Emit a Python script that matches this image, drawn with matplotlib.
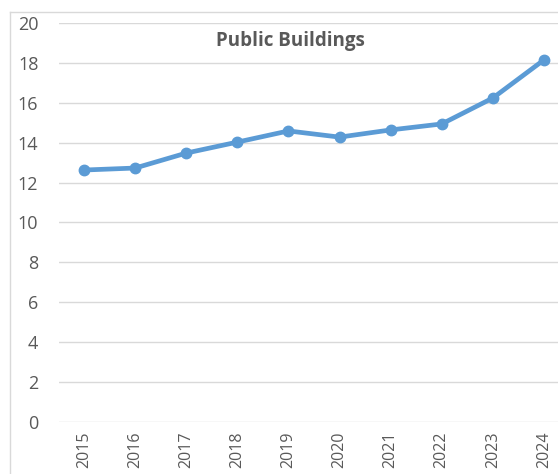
import matplotlib
matplotlib.use("Agg")
import matplotlib.pyplot as plt
from matplotlib.lines import Line2D

years = ["2015", "2016", "2017", "2018", "2019", "2020", "2021", "2022", "2023", "2024"]
values = [12.63, 12.73, 13.48, 14.03, 14.59, 14.28, 14.64, 14.94, 16.24, 18.15]
y_ticks = [0, 2, 4, 6, 8, 10, 12, 14, 16, 18, 20]
title = "Public Buildings"

W, H = 558, 474
fig = plt.figure(figsize=(W / 100, H / 100), dpi=100)
fig.patch.set_facecolor("white")

# outer chart frame (top and left edges)
frame_color = "#D9D9D9"
fig.add_artist(Line2D([10 / W, 10 / W], [0, 1 - 12 / H], transform=fig.transFigure,
                      color=frame_color, lw=1.0))
fig.add_artist(Line2D([10 / W, 1], [1 - 12 / H, 1 - 12 / H], transform=fig.transFigure,
                      color=frame_color, lw=1.0))

left, right = 58.5 / W, 1.0
top, bottom = 1 - 23 / H, 1 - 422 / H
ax = fig.add_axes([left, bottom, right - left, top - bottom])

x = list(range(len(years)))
ax.plot(x, values, color="#5B9BD5", lw=3.4, marker="o", ms=7.5,
        solid_capstyle="round", solid_joinstyle="round", zorder=3)

step = 51.1
ax.set_xlim(-0.5, -0.5 + (W - 58.5) / step)
ax.set_ylim(0, 20)
ax.set_yticks(y_ticks)
ax.set_xticks(x)
ax.set_xticklabels(years, rotation=90)

for s in ax.spines.values():
    s.set_visible(False)
ax.yaxis.grid(True, color="#D9D9D9", lw=1.0)
ax.set_axisbelow(True)
ax.tick_params(axis="both", length=0, colors="#595959")
ax.tick_params(axis="y", pad=14.5, labelsize=13)
ax.tick_params(axis="x", pad=7, labelsize=11.5)
for lab in ax.get_yticklabels() + ax.get_xticklabels():
    lab.set_fontfamily("Open Sans")

ax.text(290 / W, 1 - 41 / H, title, transform=fig.transFigure, ha="center", va="center",
        fontsize=13.5, fontweight="bold", color="#595959", fontfamily="Open Sans")

fig.savefig("out.png", dpi=100, facecolor="white")
